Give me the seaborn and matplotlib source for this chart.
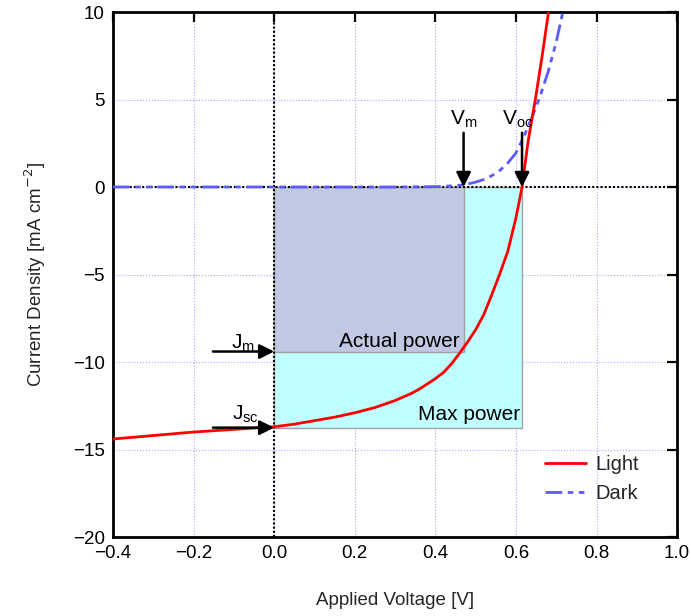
import matplotlib
matplotlib.use("Agg")
import matplotlib.pyplot as plt
import seaborn as sns
import pandas as pd
from matplotlib.patches import Rectangle

# ---- data ----
V_light = [-0.4, -0.3, -0.2, -0.1, 0.0, 0.05, 0.1, 0.15, 0.2, 0.25, 0.3, 0.32, 0.34, 0.36,
           0.38, 0.4, 0.42, 0.44, 0.46, 0.48, 0.5, 0.52, 0.54, 0.56, 0.58, 0.6, 0.61,
           0.615, 0.63, 0.648, 0.665, 0.682]
J_light = [-14.4, -14.2, -14.0, -13.85, -13.7, -13.55, -13.35, -13.15, -12.9, -12.6, -12.2,
           -12.0, -11.8, -11.55, -11.25, -10.95, -10.6, -10.1, -9.5, -8.85, -8.15, -7.3,
           -6.15, -4.95, -3.65, -1.75, -0.6, 0.0, 2.6, 5.0, 7.5, 10.2]

V_dark = [-0.4, 0.0, 0.3, 0.4, 0.42, 0.44, 0.46, 0.48, 0.5, 0.52, 0.54, 0.56, 0.58, 0.6,
          0.62, 0.64, 0.66, 0.68, 0.7, 0.72]
J_dark = [0.0, 0.0, 0.0, 0.02, 0.04, 0.07, 0.1, 0.17, 0.28, 0.43, 0.65, 0.95, 1.38, 1.95,
          2.9, 4.0, 5.2, 6.6, 8.3, 10.4]

Vm, Voc = 0.47, 0.615
Jm, Jsc = -9.4, -13.75

x_ticks = [-0.4, -0.2, 0.0, 0.2, 0.4, 0.6, 0.8, 1.0]
y_ticks = [-20, -15, -10, -5, 0, 5, 10]

sns.set_theme(style="white")
plt.rcParams['font.family'] = ['Liberation Sans', 'DejaVu Sans']

fig = plt.figure(figsize=(6.91, 6.16), dpi=100)
ax = fig.add_axes([0.1635, 0.1282, 0.98 - 0.1635, 0.9805 - 0.1282])

# grid
for xv in x_ticks:
    ax.axvline(xv, color='#a8a8ff', lw=0.8, ls=':', zorder=0)
for yv in y_ticks:
    ax.axhline(yv, color='#a8a8ff', lw=0.8, ls=':', zorder=0)

# power rectangles
ax.add_patch(Rectangle((0, Jsc), Voc, -Jsc, facecolor='#c0ffff', edgecolor='#a0a0a0', lw=1.0, zorder=1))
ax.add_patch(Rectangle((0, Jm), Vm, -Jm, facecolor='#c0c8e4', edgecolor='#a0a0a0', lw=1.0, zorder=1.1))

# zero lines
ax.axhline(0, color='black', lw=1.5, ls=(0, (1, 1)), zorder=1.5)
ax.axvline(0, color='black', lw=1.5, ls=(0, (1, 1)), zorder=1.5)

df_l = pd.DataFrame({'V': V_light, 'J': J_light})
df_d = pd.DataFrame({'V': V_dark, 'J': J_dark})
sns.lineplot(data=df_d, x='V', y='J', sort=False, ax=ax, color='#5a5aff', lw=2.0,
             linestyle=(0, (6, 2, 2, 2, 2, 2)), label='Dark', zorder=3)
sns.lineplot(data=df_l, x='V', y='J', sort=False, ax=ax, color='#ff0000', lw=2.0,
             label='Light', zorder=4)

ax.set_xlim(-0.4, 1.0)
ax.set_ylim(-20, 10)
ax.set_xticks(x_ticks)
ax.set_yticks(y_ticks)
ax.set_xticklabels([f"{t:.1f}".replace('-', '\u2212') for t in x_ticks])
ax.set_yticklabels([f"{t}".replace('-', '\u2212') for t in y_ticks])
ax.tick_params(direction='in', length=7, width=1.6, labelsize=13.5, colors='black',
               top=True, right=True, pad=6)
for s in ax.spines.values():
    s.set_color('black')
    s.set_linewidth(2.0)

ax.set_xlabel('Applied Voltage [V]', fontsize=13.5, labelpad=21)
ax.set_ylabel('Current Density [mA cm$^{-2}$]', fontsize=13.5, labelpad=18)

aprops = dict(arrowstyle='-|>', color='black', lw=1.8, mutation_scale=22, shrinkA=0, shrinkB=0)
ax.annotate('', xy=(Vm, 0), xytext=(Vm, 3.1), arrowprops=aprops, zorder=6)
ax.annotate('', xy=(Voc, 0), xytext=(Voc, 3.1), arrowprops=aprops, zorder=6)
ax.annotate('', xy=(0, Jm), xytext=(-0.152, Jm), arrowprops=aprops, zorder=6)
ax.annotate('', xy=(0, Jsc), xytext=(-0.152, Jsc), arrowprops=aprops, zorder=6)

tk = dict(fontsize=15, color='black', zorder=7)
ax.text(Vm, 3.9, r'V$_{\mathregular{m}}$', ha='center', va='center', **tk)
ax.text(Voc - 0.012, 3.9, r'V$_{\mathregular{oc}}$', ha='center', va='center', **tk)
ax.text(-0.077, -8.9, r'J$_{\mathregular{m}}$', ha='center', va='center', **tk)
ax.text(-0.072, -13.0, r'J$_{\mathregular{sc}}$', ha='center', va='center', **tk)
ax.text(0.459, -8.8, 'Actual power', ha='right', va='center', **tk)
ax.text(0.61, -13.0, 'Max power', ha='right', va='center', **tk)

h, l = ax.get_legend_handles_labels()
order = [l.index('Light'), l.index('Dark')]
ax.legend([h[i] for i in order], [l[i] for i in order], loc='lower right',
          bbox_to_anchor=(0.965, 0.03), frameon=False, fontsize=14.5,
          handlelength=2.0, handletextpad=0.5, labelspacing=0.5)

fig.savefig('out.png', dpi=100)
